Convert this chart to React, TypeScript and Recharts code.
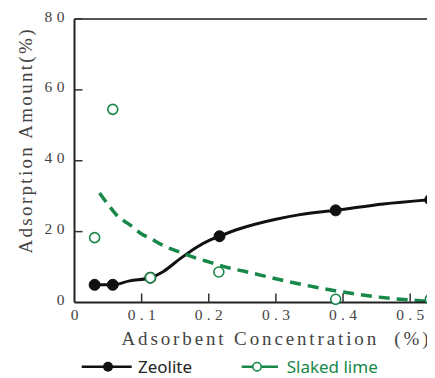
import React from "react";
import { ComposedChart, Line, XAxis, YAxis, ReferenceLine } from "recharts";

// Measured markers
const zeoliteX = [0.03, 0.057, 0.113, 0.216, 0.389, 0.53];
const zeoliteY = [5.0, 5.0, 7.0, 18.7, 26.0, 29.0];
const limeX = [0.03, 0.057, 0.113, 0.215, 0.389, 0.53];
const limeY = [18.3, 54.5, 7.0, 8.6, 0.9, 0.9];

// Fitted curves
const zeoliteCurveX = [0.03, 0.057, 0.082, 0.113, 0.132, 0.157, 0.182, 0.2015, 0.216, 0.246, 0.3, 0.336, 0.389, 0.46, 0.53];
const zeoliteCurveY = [5.0, 5.0, 6.1, 7.0, 8.7, 12.3, 15.6, 17.6, 18.7, 20.8, 23.5, 24.8, 26.0, 27.8, 29.0];
const limeCurveX = [0.0373, 0.051, 0.0646, 0.082, 0.0995, 0.114, 0.132, 0.157, 0.177, 0.201, 0.236, 0.253, 0.311, 0.386, 0.445, 0.49, 0.53];
const limeCurveY = [30.9, 27.4, 24.3, 22.0, 19.4, 18.0, 16.1, 14.2, 12.8, 11.4, 9.5, 8.8, 6.2, 3.4, 1.7, 0.85, 0.3];

const xTicks = [0, 0.1, 0.2, 0.3, 0.4, 0.5];
const yTicks = [0, 20, 40, 60, 80];

const toPts = (xs: number[], ys: number[]) => xs.map((x, i) => ({ x, y: ys[i] }));
const zeoliteMarkers = toPts(zeoliteX, zeoliteY);
const limeMarkers = toPts(limeX, limeY);
const zeoliteCurve = toPts(zeoliteCurveX, zeoliteCurveY);
const limeCurve = toPts(limeCurveX, limeCurveY);

const GREEN = "#17884a";
const SERIF = "'Liberation Serif', 'DejaVu Serif', serif";
const SANS = "'Noto Sans', 'Open Sans', sans-serif";

const XTick = (p: any) => {
  const v = p.payload.value;
  const label = v === 0 ? "0" : v.toFixed(1);
  return (
    <g>
      {v !== 0 && <line x1={p.x} y1={p.y} x2={p.x} y2={p.y - 9} stroke="#333" strokeWidth={1.5} />}
      <text
        x={p.x}
        y={p.y + 17}
        textAnchor="middle"
        fontFamily={SERIF}
        fontSize={15.5}
        fill="#444"
        {...(label.length > 1 ? { textLength: 28, lengthAdjust: "spacing" } : {})}
      >
        {label}
      </text>
    </g>
  );
};

const YTick = (p: any) => {
  const v = p.payload.value;
  const label = String(v);
  return (
    <g>
      {v !== 0 && <line x1={p.x} y1={p.y} x2={p.x + 8} y2={p.y} stroke="#333" strokeWidth={1.5} />}
      <text
        x={p.x - 10}
        y={p.y + 2.5}
        textAnchor="end"
        fontFamily={SERIF}
        fontSize={15.5}
        fill="#444"
        {...(label.length > 1 ? { textLength: 20, lengthAdjust: "spacing" } : {})}
      >
        {label}
      </text>
    </g>
  );
};

export default function App() {
  return (
    <div style={{ position: "relative", width: 427, height: 370 }}>
      <ComposedChart width={427} height={370} margin={{ top: 11, right: 0, bottom: 0, left: 0 }}>
        <XAxis
          type="number"
          dataKey="x"
          domain={[0, 0.537]}
          ticks={xTicks}
          interval={0}
          height={75.5}
          tickSize={0}
          tickMargin={0}
          tick={<XTick />}
          axisLine={{ stroke: "#222", strokeWidth: 2 }}
          tickLine={false}
          allowDataOverflow
        />
        <YAxis
          type="number"
          dataKey="y"
          domain={[0, 80]}
          ticks={yTicks}
          interval={0}
          width={66.5}
          tickSize={0}
          tickMargin={0}
          tick={<YTick />}
          axisLine={{ stroke: "#222", strokeWidth: 2 }}
          tickLine={false}
        />
        <ReferenceLine y={80} stroke="#555" strokeWidth={2} />
        <Line
          data={zeoliteCurve}
          dataKey="y"
          type="monotone"
          stroke="#111"
          strokeWidth={3}
          dot={false}
          isAnimationActive={false}
        />
        <Line
          data={limeCurve}
          dataKey="y"
          type="monotone"
          stroke={GREEN}
          strokeWidth={3.5}
          strokeDasharray="11 7"
          dot={false}
          isAnimationActive={false}
        />
        <Line
          data={zeoliteMarkers}
          dataKey="y"
          stroke="none"
          dot={{ r: 5.5, fill: "#111", stroke: "#111", strokeWidth: 1 }}
          isAnimationActive={false}
        />
        <Line
          data={limeMarkers}
          dataKey="y"
          stroke="none"
          dot={{ r: 5, fill: "#fff", stroke: GREEN, strokeWidth: 1.6 }}
          isAnimationActive={false}
        />
      </ComposedChart>
      <svg
        width={427}
        height={370}
        style={{ position: "absolute", left: 0, top: 0, pointerEvents: "none" }}
      >
        <text
          x={23.5}
          y={133.5}
          transform="rotate(-90, 23.5, 133.5)"
          textAnchor="middle"
          fontFamily={SERIF}
          fontSize={19}
          fill="#444"
          textLength={224}
          lengthAdjust="spacing"
        >
          Adsorption Amount(%)
        </text>
        <text
          x={267}
          y={337}
          textAnchor="middle"
          fontFamily={SERIF}
          fontSize={19}
          fill="#444"
          textLength={307}
          lengthAdjust="spacing"
          style={{ whiteSpace: "pre" }}
        >
          {"Adsorbent Concentration  (%)"}
        </text>
        <line x1={73.7} y1={358.7} x2={123.7} y2={358.7} stroke="#111" strokeWidth={2.5} />
        <circle cx={100} cy={358.7} r={5} fill="#111" />
        <text x={130} y={364.5} fontFamily={SANS} fontSize={17} fill="#222">
          Zeolite
        </text>
        <line x1={233.7} y1={358.7} x2={270} y2={358.7} stroke={GREEN} strokeWidth={2.5} />
        <circle cx={249} cy={358.7} r={4.2} fill="#fff" stroke={GREEN} strokeWidth={1.6} />
        <text x={278.7} y={364.5} fontFamily={SANS} fontSize={17} fill={GREEN}>
          Slaked lime
        </text>
      </svg>
    </div>
  );
}
